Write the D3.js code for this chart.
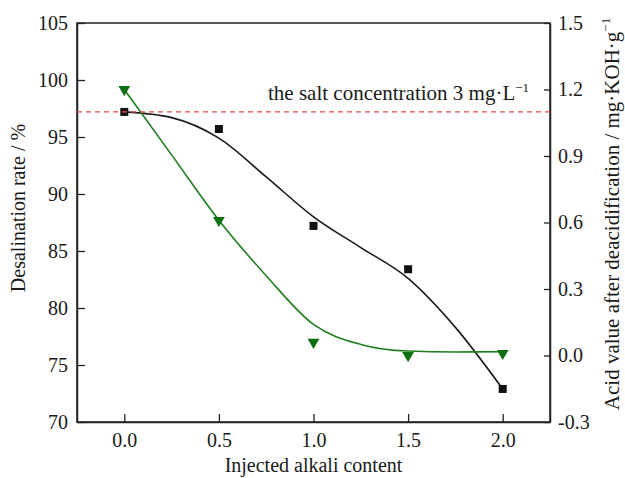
<!DOCTYPE html>
<html>
<head>
<meta charset="utf-8">
<script src="https://cdn.jsdelivr.net/npm/d3@7/dist/d3.min.js"></script>
<style>
  html, body { margin: 0; padding: 0; background: #fff; }
  svg text { font-family: "Liberation Serif", Tinos, "Nimbus Roman", "Noto Serif", "DejaVu Serif", serif !important; fill: #1a1a1a; }
</style>
</head>
<body>
<svg id="chart" width="625" height="478"></svg>
<script>
// ---- data ----
const alkali = [0.0, 0.5, 1.0, 1.5, 2.0];
const desalinationRate = [97.2, 95.7, 87.2, 83.4, 72.9];
const acidValue = [1.20, 0.61, 0.06, 0.00, 0.01];
const fitX = [0.0, 0.25, 0.5, 0.75, 1.0, 1.25, 1.5, 1.75, 2.0];
const desalFit = [97.2, 96.7, 94.9, 91.5, 88.0, 85.3, 82.6, 78.3, 72.9];
const acidFit = [1.20, 0.905, 0.61, 0.36, 0.14, 0.05, 0.02, 0.016, 0.017];
const saltLimit = 97.2;
const xTicks = [0.0, 0.5, 1.0, 1.5, 2.0];
const xTickLabels = ["0.0", "0.5", "1.0", "1.5", "2.0"];
const yLeftTicks = [70, 75, 80, 85, 90, 95, 100, 105];
const yRightTicks = [-0.3, 0.0, 0.3, 0.6, 0.9, 1.2, 1.5];
const yRightTickLabels = ["-0.3", "0.0", "0.3", "0.6", "0.9", "1.2", "1.5"];

// ---- layout ----
const W = 625, H = 478;
const m = { left: 77, top: 23, right: 75, bottom: 56 };
const pw = W - m.left - m.right, ph = H - m.top - m.bottom;
const svg = d3.select("#chart");
const g = svg.append("g").attr("transform", `translate(${m.left},${m.top})`);

const x = d3.scaleLinear().domain([-0.25, 2.25]).range([0, pw]);
const yL = d3.scaleLinear().domain([70, 105]).range([ph, 0]);
const yR = d3.scaleLinear().domain([-0.3, 1.5]).range([ph, 0]);

const axisColor = "#222";
const fs = 20;
const FONT = '"Liberation Serif", Tinos, "Nimbus Roman", "Noto Serif", "DejaVu Serif", serif';

// frame
g.append("rect").attr("x", 0).attr("y", 0).attr("width", pw).attr("height", ph)
  .attr("fill", "none").attr("stroke", axisColor).attr("stroke-width", 1.5);

// axes
const xAxis = g.append("g").attr("transform", `translate(0,${ph})`)
  .call(d3.axisBottom(x).tickValues(xTicks).tickFormat((d, i) => xTickLabels[i])
    .tickSizeInner(-8).tickSizeOuter(0).tickPadding(11));
const yAxisL = g.append("g")
  .call(d3.axisLeft(yL).tickValues(yLeftTicks).tickFormat(d3.format("d"))
    .tickSizeInner(-8).tickSizeOuter(0).tickPadding(9));
const yAxisR = g.append("g").attr("transform", `translate(${pw},0)`)
  .call(d3.axisRight(yR).tickValues(yRightTicks).tickFormat((d, i) => yRightTickLabels[i])
    .tickSizeInner(-6).tickSizeOuter(0).tickPadding(8));
[xAxis, yAxisL, yAxisR].forEach(a => {
  a.attr("font-family", FONT);
  a.select(".domain").attr("stroke", axisColor).attr("stroke-width", 1.5);
  a.selectAll(".tick line").attr("stroke", axisColor).attr("stroke-width", 1.3);
  a.selectAll(".tick text").attr("font-size", fs).attr("fill", "#1a1a1a");
});

// fit curves
const lineL = d3.line().x((d, i) => x(fitX[i])).y(d => yL(d)).curve(d3.curveMonotoneX);
const lineR = d3.line().x((d, i) => x(fitX[i])).y(d => yR(d)).curve(d3.curveMonotoneX);
g.append("path").attr("d", lineL(desalFit)).attr("fill", "none").attr("stroke", "#1a1a1a").attr("stroke-width", 1.6);
g.append("path").attr("d", lineR(acidFit)).attr("fill", "none").attr("stroke", "#1f7f1f").attr("stroke-width", 1.6);

// markers
g.selectAll(".sq").data(desalinationRate).enter().append("rect")
  .attr("x", (d, i) => x(alkali[i]) - 4).attr("y", d => yL(d) - 4)
  .attr("width", 8).attr("height", 8).attr("fill", "#111");
const tri = d3.symbol().type(d3.symbolTriangle).size(60);
g.selectAll(".tri").data(acidValue).enter().append("path")
  .attr("d", tri)
  .attr("transform", (d, i) => `translate(${x(alkali[i])},${yR(d)}) rotate(180)`)
  .attr("fill", "#0f700f");

// salt limit dashed line
g.append("line").attr("x1", 0).attr("x2", pw).attr("y1", yL(saltLimit)).attr("y2", yL(saltLimit))
  .attr("stroke", "#e84a4a").attr("stroke-width", 1.3).attr("stroke-dasharray", "5,4");
const lbl = g.append("text").attr("x", 268 - m.left).attr("y", yL(saltLimit) - 12)
  .attr("font-family", FONT).attr("font-size", 21);
lbl.append("tspan").text("the salt concentration 3 mg\u00B7L");
lbl.append("tspan").attr("font-size", 13).attr("dy", -8).text("\u22121");

// axis titles
g.append("text").attr("x", pw / 2).attr("y", ph + 50).attr("text-anchor", "middle")
  .attr("font-family", FONT).attr("font-size", 20).text("Injected alkali content");
svg.append("text").attr("transform", "translate(25,208) rotate(-90)").attr("text-anchor", "middle")
  .attr("font-family", FONT).attr("font-size", 20).text("Desalination rate / %");
const rt = svg.append("text").attr("transform", "translate(619,214) rotate(-90)").attr("text-anchor", "middle")
  .attr("font-family", FONT).attr("font-size", 21);
rt.append("tspan").text("Acid value after deacidification / mg\u00B7KOH\u00B7g");
rt.append("tspan").attr("font-size", 13).attr("dy", -9).text("\u22121");
</script>
</body>
</html>
